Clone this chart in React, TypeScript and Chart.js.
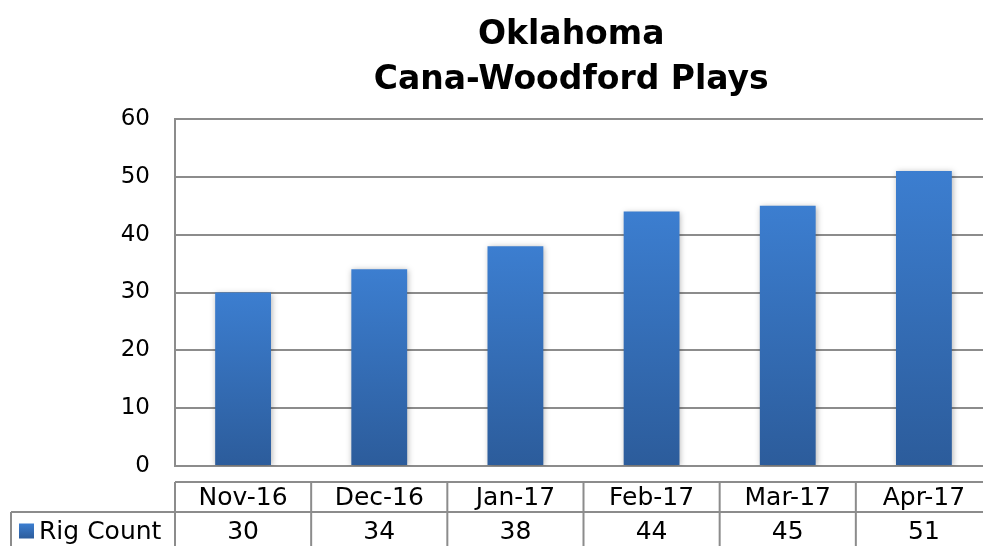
import React, { useEffect, useRef } from 'react';
import { Chart, registerables } from 'chart.js';

Chart.register(...registerables);

const categories = ['Nov-16', 'Dec-16', 'Jan-17', 'Feb-17', 'Mar-17', 'Apr-17'];
const rigCount = [30, 34, 38, 44, 45, 51];
const seriesName = 'Rig Count';
const titleLines = ['Oklahoma', 'Cana-Woodford Plays'];
const yMin = 0;
const yMax = 60;
const yStep = 10;

const FONT = '"DejaVu Sans", sans-serif';
const GRID = '#8c8c8c';
const BAR_TOP = '#3C7ED0';
const BAR_BOTTOM = '#2C5C9B';

function gradient(ctx: CanvasRenderingContext2D, top: number, bottom: number) {
  const g = ctx.createLinearGradient(0, top, 0, bottom);
  g.addColorStop(0, BAR_TOP);
  g.addColorStop(1, BAR_BOTTOM);
  return g;
}

const shadowPlugin = {
  id: 'barShadow',
  beforeDatasetsDraw(chart: any) {
    const ctx = chart.ctx;
    ctx.save();
    ctx.shadowColor = 'rgba(0,0,0,0.30)';
    ctx.shadowBlur = 6;
    ctx.shadowOffsetX = 1;
    ctx.shadowOffsetY = 1;
  },
  afterDatasetsDraw(chart: any) {
    chart.ctx.restore();
  },
};

const titlePlugin = {
  id: 'customTitle',
  afterDraw(chart: any) {
    const { ctx, chartArea } = chart;
    const cx = chartArea.left + (chartArea.right - chartArea.left) * 0.485;
    ctx.save();
    ctx.fillStyle = '#000';
    ctx.font = `bold 33px ${FONT}`;
    ctx.textAlign = 'center';
    ctx.textBaseline = 'alphabetic';
    ctx.fillText(titleLines[0], cx, 44);
    ctx.fillText(titleLines[1], cx, 89);
    ctx.restore();
  },
};

const tablePlugin = {
  id: 'dataTable',
  afterDraw(chart: any) {
    const { ctx, chartArea } = chart;
    const x = chart.scales.x;
    const n = categories.length;
    const colW = x.getPixelForValue(1) - x.getPixelForValue(0);
    const edge = (i: number) => x.getPixelForValue(i) - colW / 2;
    const headTop = chartArea.bottom + 16;
    const headBot = headTop + 30;
    const rowBot = headBot + 38;
    const labelLeft = 11;
    const right = edge(n);

    ctx.save();
    ctx.strokeStyle = GRID;
    ctx.lineWidth = 2;
    ctx.beginPath();
    ctx.moveTo(edge(0), headTop);
    ctx.lineTo(right, headTop);
    ctx.moveTo(labelLeft, headBot);
    ctx.lineTo(right, headBot);
    ctx.moveTo(labelLeft, headBot);
    ctx.lineTo(labelLeft, rowBot);
    for (let i = 0; i <= n; i++) {
      ctx.moveTo(edge(i), headTop);
      ctx.lineTo(edge(i), rowBot);
    }
    ctx.stroke();

    ctx.fillStyle = '#000';
    ctx.font = `25px ${FONT}`;
    ctx.textAlign = 'center';
    ctx.textBaseline = 'middle';
    for (let i = 0; i < n; i++) {
      const cx = x.getPixelForValue(i);
      ctx.fillText(categories[i], cx, (headTop + headBot) / 2 + 1);
      ctx.fillText(String(rigCount[i]), cx, (headBot + rowBot) / 2 + 1);
    }

    // legend key
    const ky = (headBot + rowBot) / 2;
    const sq = 15;
    ctx.fillStyle = gradient(ctx, ky - sq / 2, ky + sq / 2);
    ctx.fillRect(19, ky - sq / 2, sq, sq);
    ctx.fillStyle = '#000';
    ctx.textAlign = 'left';
    ctx.fillText(seriesName, 39, ky + 1);
    ctx.restore();
  },
};

export default function App() {
  const ref = useRef<HTMLCanvasElement | null>(null);

  useEffect(() => {
    if (!ref.current) return;
    Chart.defaults.font.family = FONT;
    const chart = new Chart(ref.current, {
      type: 'bar',
      data: {
        labels: categories,
        datasets: [
          {
            label: seriesName,
            data: rigCount,
            backgroundColor: (c: any) => {
              const ch = c.chart;
              if (!ch.chartArea || c.type !== 'data' || !ch.scales.y) return BAR_TOP;
              const y = ch.scales.y;
              const top = y.getPixelForValue(c.parsed ? c.parsed.y : rigCount[c.dataIndex]);
              const bottom = y.getPixelForValue(0);
              return gradient(ch.ctx, top, bottom);
            },
            borderWidth: 0,
            barPercentage: 0.41,
            categoryPercentage: 1,
          },
        ],
      },
      options: {
        responsive: false,
        animation: false,
        layout: { padding: { left: 0, top: 119, right: 8, bottom: 80 } },
        plugins: {
          legend: { display: false },
          title: { display: false },
          tooltip: { enabled: false },
        },
        scales: {
          x: {
            display: false,
            offset: true,
            grid: { display: false },
          },
          y: {
            min: yMin,
            max: yMax,
            afterFit: (scale: any) => {
              scale.width = 175;
            },
            ticks: {
              stepSize: yStep,
              color: '#000',
              padding: 25,
              font: { size: 23, family: FONT },
            },
            grid: { color: GRID, lineWidth: 2, drawTicks: false },
            border: { color: GRID, width: 2 },
          },
        },
      },
      plugins: [shadowPlugin, titlePlugin, tablePlugin],
    } as any);
    return () => chart.destroy();
  }, []);

  return (
    <div
      style={{
        position: 'absolute',
        left: 0,
        top: 0,
        width: 983,
        height: 546,
        overflow: 'hidden',
        background: '#fff',
      }}
    >
      <canvas ref={ref} width={1000} height={546} style={{ width: 1000, height: 546, display: 'block' }} />
    </div>
  );
}
